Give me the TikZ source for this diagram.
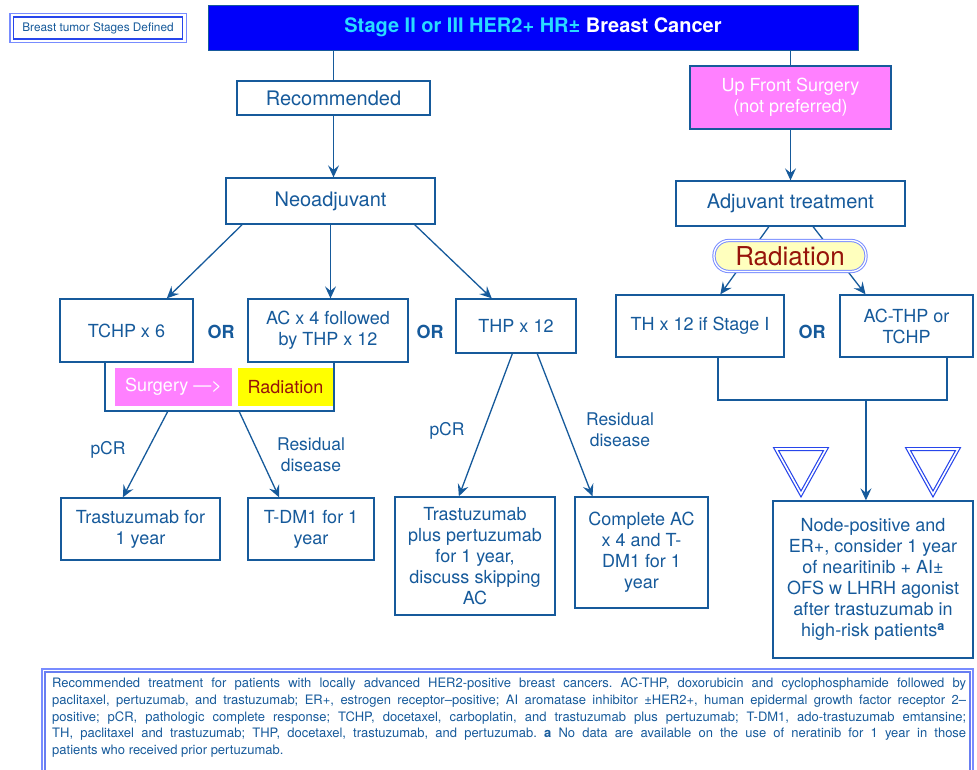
\documentclass[tikz,border=0pt]{standalone}
\usepackage{fontspec}
\setmainfont{TeX Gyre Heros}
\usetikzlibrary{arrows.meta,calc}

\definecolor{flowblue}{RGB}{22,90,155}
\definecolor{titlefill}{RGB}{0,0,250}
\definecolor{titlecyan}{RGB}{40,220,255}
\definecolor{pinkfill}{RGB}{255,128,255}
\definecolor{radfill}{RGB}{255,255,190}
\definecolor{radred}{RGB}{150,20,10}
\definecolor{radyellow}{RGB}{255,255,0}
\definecolor{frameblue}{RGB}{40,70,235}
\definecolor{framelight}{RGB}{120,140,255}

\newcommand{\fsz}[2]{\fontsize{#1}{#2}\selectfont}
\newcommand{\capline}[1]{\makebox[914pt][s]{#1}}

\begin{document}
\begin{tikzpicture}[x=1pt,y=-1pt,
  box/.style={draw=flowblue, line width=1.3pt, fill=white, text=flowblue,
    align=center, inner sep=0pt, font=\fsz{18}{21}},
  bigbox/.style={box, font=\fsz{20}{23}},
  conn/.style={draw=flowblue, line width=1.3pt},
  arr/.style={conn, -{Stealth[length=12pt,width=11pt,inset=4.5pt]}},
  orlabel/.style={text=flowblue, font=\bfseries\fsz{18}{21}},
  branchlabel/.style={text=flowblue, font=\fsz{17.5}{21}, align=center},
  innerframe/.style={draw=frameblue, line width=1.1pt},
  outerframe/.style={draw=framelight, line width=1.1pt},
  tframe/.style={draw=frameblue, double=white, double distance=1.6pt, line width=1.2pt, line join=miter},
  lframe/.style={draw=framelight, double=white, double distance=1.3pt, line width=1pt},
]
\useasboundingbox (0,0) rectangle (977,769);
\clip (0,0) rectangle (977,769);

% header
\node[innerframe, fill=white, minimum width=169pt, minimum height=22pt, inner sep=0pt,
  text=flowblue, font=\fsz{11.8}{13}] (stages) at (98,28) {Breast tumor Stages Defined};
\draw[outerframe] ([shift={(-3,3)}]stages.south west) rectangle ([shift={(3,-3)}]stages.north east);
\node[draw=flowblue, line width=1pt, fill=titlefill, minimum width=650pt, minimum height=45pt,
  text=white, font=\bfseries\fsz{20}{23}] (title) at (533,27.5)
  {\raisebox{-2.5pt}{{\color{titlecyan}Stage II or III HER2+ HR±} Breast Cancer}};

% neoadjuvant branch
\node[bigbox, minimum width=193pt, minimum height=34pt] (rec) at (333.5,98) {Recommended};
\node[bigbox, minimum width=209pt, minimum height=46pt] (neo) at (330.5,201) {Neoadjuvant};
\draw[conn] (title.south -| rec) -- (rec.north);
\draw[arr] (rec.south) -- (rec.south |- neo.north);

\node[box, minimum width=133pt, minimum height=63pt] (tchp) at (126.5,330.5) {TCHP x 6};
\node[box, minimum width=160pt, minimum height=63pt] (acx4) at (328,330.5) {AC x 4 followed\\by THP x 12};
\node[box, minimum width=120pt, minimum height=54pt] (thp) at (516,326) {THP x 12};
\node[orlabel] (or1) at (221,332) {OR};
\node[orlabel] (or2) at (430,332) {OR};

\draw[arr] ($(neo.south west)!0.08!(neo.south east)$) -- ($(tchp.north west)!0.8!(tchp.north east)$);
\draw[arr] (neo.south) -- (neo.south |- acx4.north);
\draw[arr] ($(neo.south west)!0.9!(neo.south east)$) -- ($(thp.north west)!0.3!(thp.north east)$);

% surgery then radiation bracket
\coordinate (brl) at (105,411);
\coordinate (brr) at (334,411);
\draw[conn] (tchp.south -| brl) -- (brl) -- (brr) -- (brr |- acx4.south);
\node[fill=pinkfill, minimum width=117pt, minimum height=38pt, inner sep=0pt,
  text=white, font=\fsz{18}{21}] (surg) at (173.5,387) {Surgery —>};
\node[fill=radyellow, minimum width=95pt, minimum height=38pt, inner sep=0pt,
  text=radred, font=\fsz{18}{21}] (radsmall) at (285.5,387) {Radiation};

\node[box, minimum width=159pt, minimum height=62pt] (trast1) at (140.5,529) {Trastuzumab for\\1 year};
\node[box, minimum width=126pt, minimum height=62pt] (tdm1) at (311,529) {T-DM1 for 1\\year};
\draw[arr] ($(brl)!0.275!(brr)$) -- ($(trast1.north west)!0.39!(trast1.north east)$);
\draw[arr] ($(brl)!0.585!(brr)$) -- ($(tdm1.north west)!0.25!(tdm1.north east)$);
\node[branchlabel] (pcr1) at (108,450) {pCR};
\node[branchlabel] (res1) at (311,455) {Residual\\disease};

\node[box, minimum width=160pt, minimum height=118pt] (trastplus) at (475,556)
  {Trastuzumab\\plus pertuzumab\\for 1 year,\\discuss skipping\\AC};
\node[box, minimum width=133pt, minimum height=111pt] (compac) at (641.5,552.5)
  {Complete AC\\x 4 and T-\\DM1 for 1\\year};
\draw[arr] ($(thp.south west)!0.47!(thp.south east)$) -- ($(trastplus.north west)!0.4!(trastplus.north east)$);
\draw[arr] ($(thp.south west)!0.675!(thp.south east)$) -- ($(compac.north west)!0.135!(compac.north east)$);
\node[branchlabel] (pcr2) at (447,431) {pCR};
\node[branchlabel] (res2) at (620,430) {Residual\\disease};

% up front surgery branch
\node[box, fill=pinkfill, text=white, minimum width=201pt, minimum height=63pt] (upfront) at (790.5,97.5)
  {Up Front Surgery\\(not preferred)};
\node[bigbox, minimum width=229pt, minimum height=45pt] (adj) at (790.5,203.5) {Adjuvant treatment};
\draw[conn] (title.south -| upfront) -- (upfront.north);
\draw[arr] (upfront.south) -- (adj.north);

\node[box, minimum width=168pt, minimum height=62pt] (th12) at (700,326) {TH x 12 if Stage I};
\node[box, minimum width=133pt, minimum height=62pt] (acthp) at (906.5,326) {AC-THP or\\TCHP};
\node[orlabel] (or3) at (812,332) {OR};
\draw[arr] ($(adj.south west)!0.406!(adj.south east)$) -- ($(th12.north west)!0.62!(th12.north east)$);
\draw[arr] ($(adj.south west)!0.598!(adj.south east)$) -- ($(acthp.north west)!0.195!(acthp.north east)$);
\node[lframe, fill=radfill, rounded corners=15pt, minimum width=152pt, minimum height=31pt,
  inner sep=0pt, text=radred, font=\fsz{26}{28}] (rad) at (790,256) {Radiation};

\coordinate (rbl) at (718,400);
\coordinate (rbr) at (947,400);
\coordinate (rbm) at ($(rbl)!0.646!(rbr)$);
\draw[conn] (th12.south -| rbl) -- (rbl) -- (rbr) -- (rbr |- acthp.south);
\node[box, minimum width=200pt, minimum height=157pt] (nodepos) at (873,579.5)
  {Node-positive and\\ER+, consider 1 year\\of nearitinib + AI±\\OFS w LHRH agonist\\after trastuzumab in\\high-risk patients\textsuperscript{\textbf{a}}};
\draw[arr] (rbm) -- (rbm |- nodepos.north);

% warning triangles
\draw[tframe] (776,449) -- (826,449) -- (801,494) -- cycle;
\draw[tframe] (908,449) -- (958,449) -- (933,494) -- cycle;

% abbreviations
\draw[outerframe] (42,669) rectangle (973,800);
\draw[innerframe, draw=frameblue!70] (45,672) rectangle (970,800);
\node[anchor=north west, inner sep=0pt, align=left, text=flowblue, font=\frenchspacing\fsz{13}{16.8}] (notes) at (52,677.5)
  {\capline{Recommended treatment for patients with locally advanced HER2-positive breast cancers. AC-THP, doxorubicin and cyclophosphamide followed by}\\
   \capline{paclitaxel, pertuzumab, and trastuzumab; ER+, estrogen receptor–positive; AI aromatase inhibitor ±HER2+, human epidermal growth factor receptor 2–}\\
   \capline{positive; pCR, pathologic complete response; TCHP, docetaxel, carboplatin, and trastuzumab plus pertuzumab; T-DM1, ado-trastuzumab emtansine;}\\
   \capline{TH, paclitaxel and trastuzumab; THP, docetaxel, trastuzumab, and pertuzumab. \textbf{a} No data are available on the use of neratinib for 1 year in those}\\
   patients who received prior pertuzumab.};
\end{tikzpicture}
\end{document}
